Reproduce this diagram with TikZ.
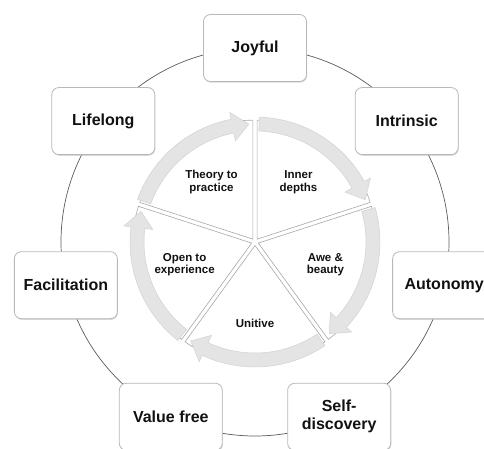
\documentclass[tikz,border=0pt]{standalone}
\usepackage{fontspec}
\setmainfont{Liberation Sans}
\usetikzlibrary{shadows}
\definecolor{ringLine}{HTML}{5A5A5A}
\definecolor{boxBorder}{HTML}{B8B8B8}
\definecolor{arrowFill}{HTML}{E4E4E4}
\definecolor{arrowEdge}{HTML}{D2D2D2}
\definecolor{sliceEdge}{HTML}{A8A8A8}
\definecolor{labelText}{HTML}{111111}

% clockwise arrow on the inner ring: #1 tail angle, #2 tip angle
\newcommand{\ringarrow}[2]{%
  \filldraw[ringarrow] (#1:125pt) arc[start angle=#1, end angle={#2+8}, radius=125pt]
    -- ({#2+8}:132pt) -- (#2:118pt) -- ({#2+8}:103pt) -- ({#2+8}:111pt)
    arc[start angle={#2+8}, end angle=#1, radius=111pt] -- cycle;}
% pie slice from #1 to #2, pushed out along its bisector
\newcommand{\pieslice}[2]{%
  \filldraw[slice, shift={({(#1+#2)/2}:3.5pt)}] (0,0) -- (#1:119pt)
    arc[start angle=#1, end angle=#2, radius=119pt] -- cycle;}

\begin{document}
\begin{tikzpicture}[
  x=1pt, y=1pt,
  facet/.style={
    draw=boxBorder,
    fill=white,
    text=labelText,
    rounded corners=7pt,
    minimum width=103pt,
    minimum height=67pt,
    line width=0.8pt,
    align=center,
    font=\fontsize{16}{18}\selectfont\bfseries,
    drop shadow={shadow xshift=0.6pt, shadow yshift=-1.2pt, fill=black!30, opacity=0.5}
  },
  ringarrow/.style={fill=arrowFill, draw=arrowEdge, line width=0.5pt},
  slice/.style={fill=white, draw=sliceEdge, line width=0.6pt},
  phase/.style={text=labelText, align=center, font=\fontsize{11.5}{12.5}\selectfont\bfseries}
]
\useasboundingbox (-255,-206) rectangle (229,242);
\coordinate (hub) at (0,0);

% outer ring and its seven boxes
\draw[ringLine, line width=0.7pt] (hub) circle[radius=194pt];
\node[facet] (joyful) at (90:194pt) {Joyful};
\node[facet] (intrinsic) at (38.57:194pt) {Intrinsic};
\node[facet] (autonomy) at (-12.86:194pt) {Autonomy};
\node[facet] (selfdisc) at (-64.29:194pt) {Self-\\discovery};
\node[facet] (valuefree) at (-115.71:194pt) {Value free};
\node[facet] (facil) at (-167.14:194pt) {Facilitation};
\node[facet] (lifelong) at (141.43:194pt) {Lifelong};

% inner segmented cycle
\pieslice{90}{162}
\pieslice{18}{90}
\pieslice{-54}{18}
\pieslice{-126}{-54}
\pieslice{162}{234}

\ringarrow{160}{93}
\ringarrow{88}{21}
\ringarrow{16}{-51}
\ringarrow{-56}{-123}
\ringarrow{232}{165}

\node[phase] (theory) at (126:74pt) {Theory to\\practice};
\node[phase] (inner) at (54:74pt) {Inner\\depths};
\node[phase] (awe) at (-18:74pt) {Awe \&\\beauty};
\node[phase] (unitive) at (-90:81pt) {Unitive};
\node[phase] (open) at (198:74pt) {Open to\\experience};

\end{tikzpicture}
\end{document}
